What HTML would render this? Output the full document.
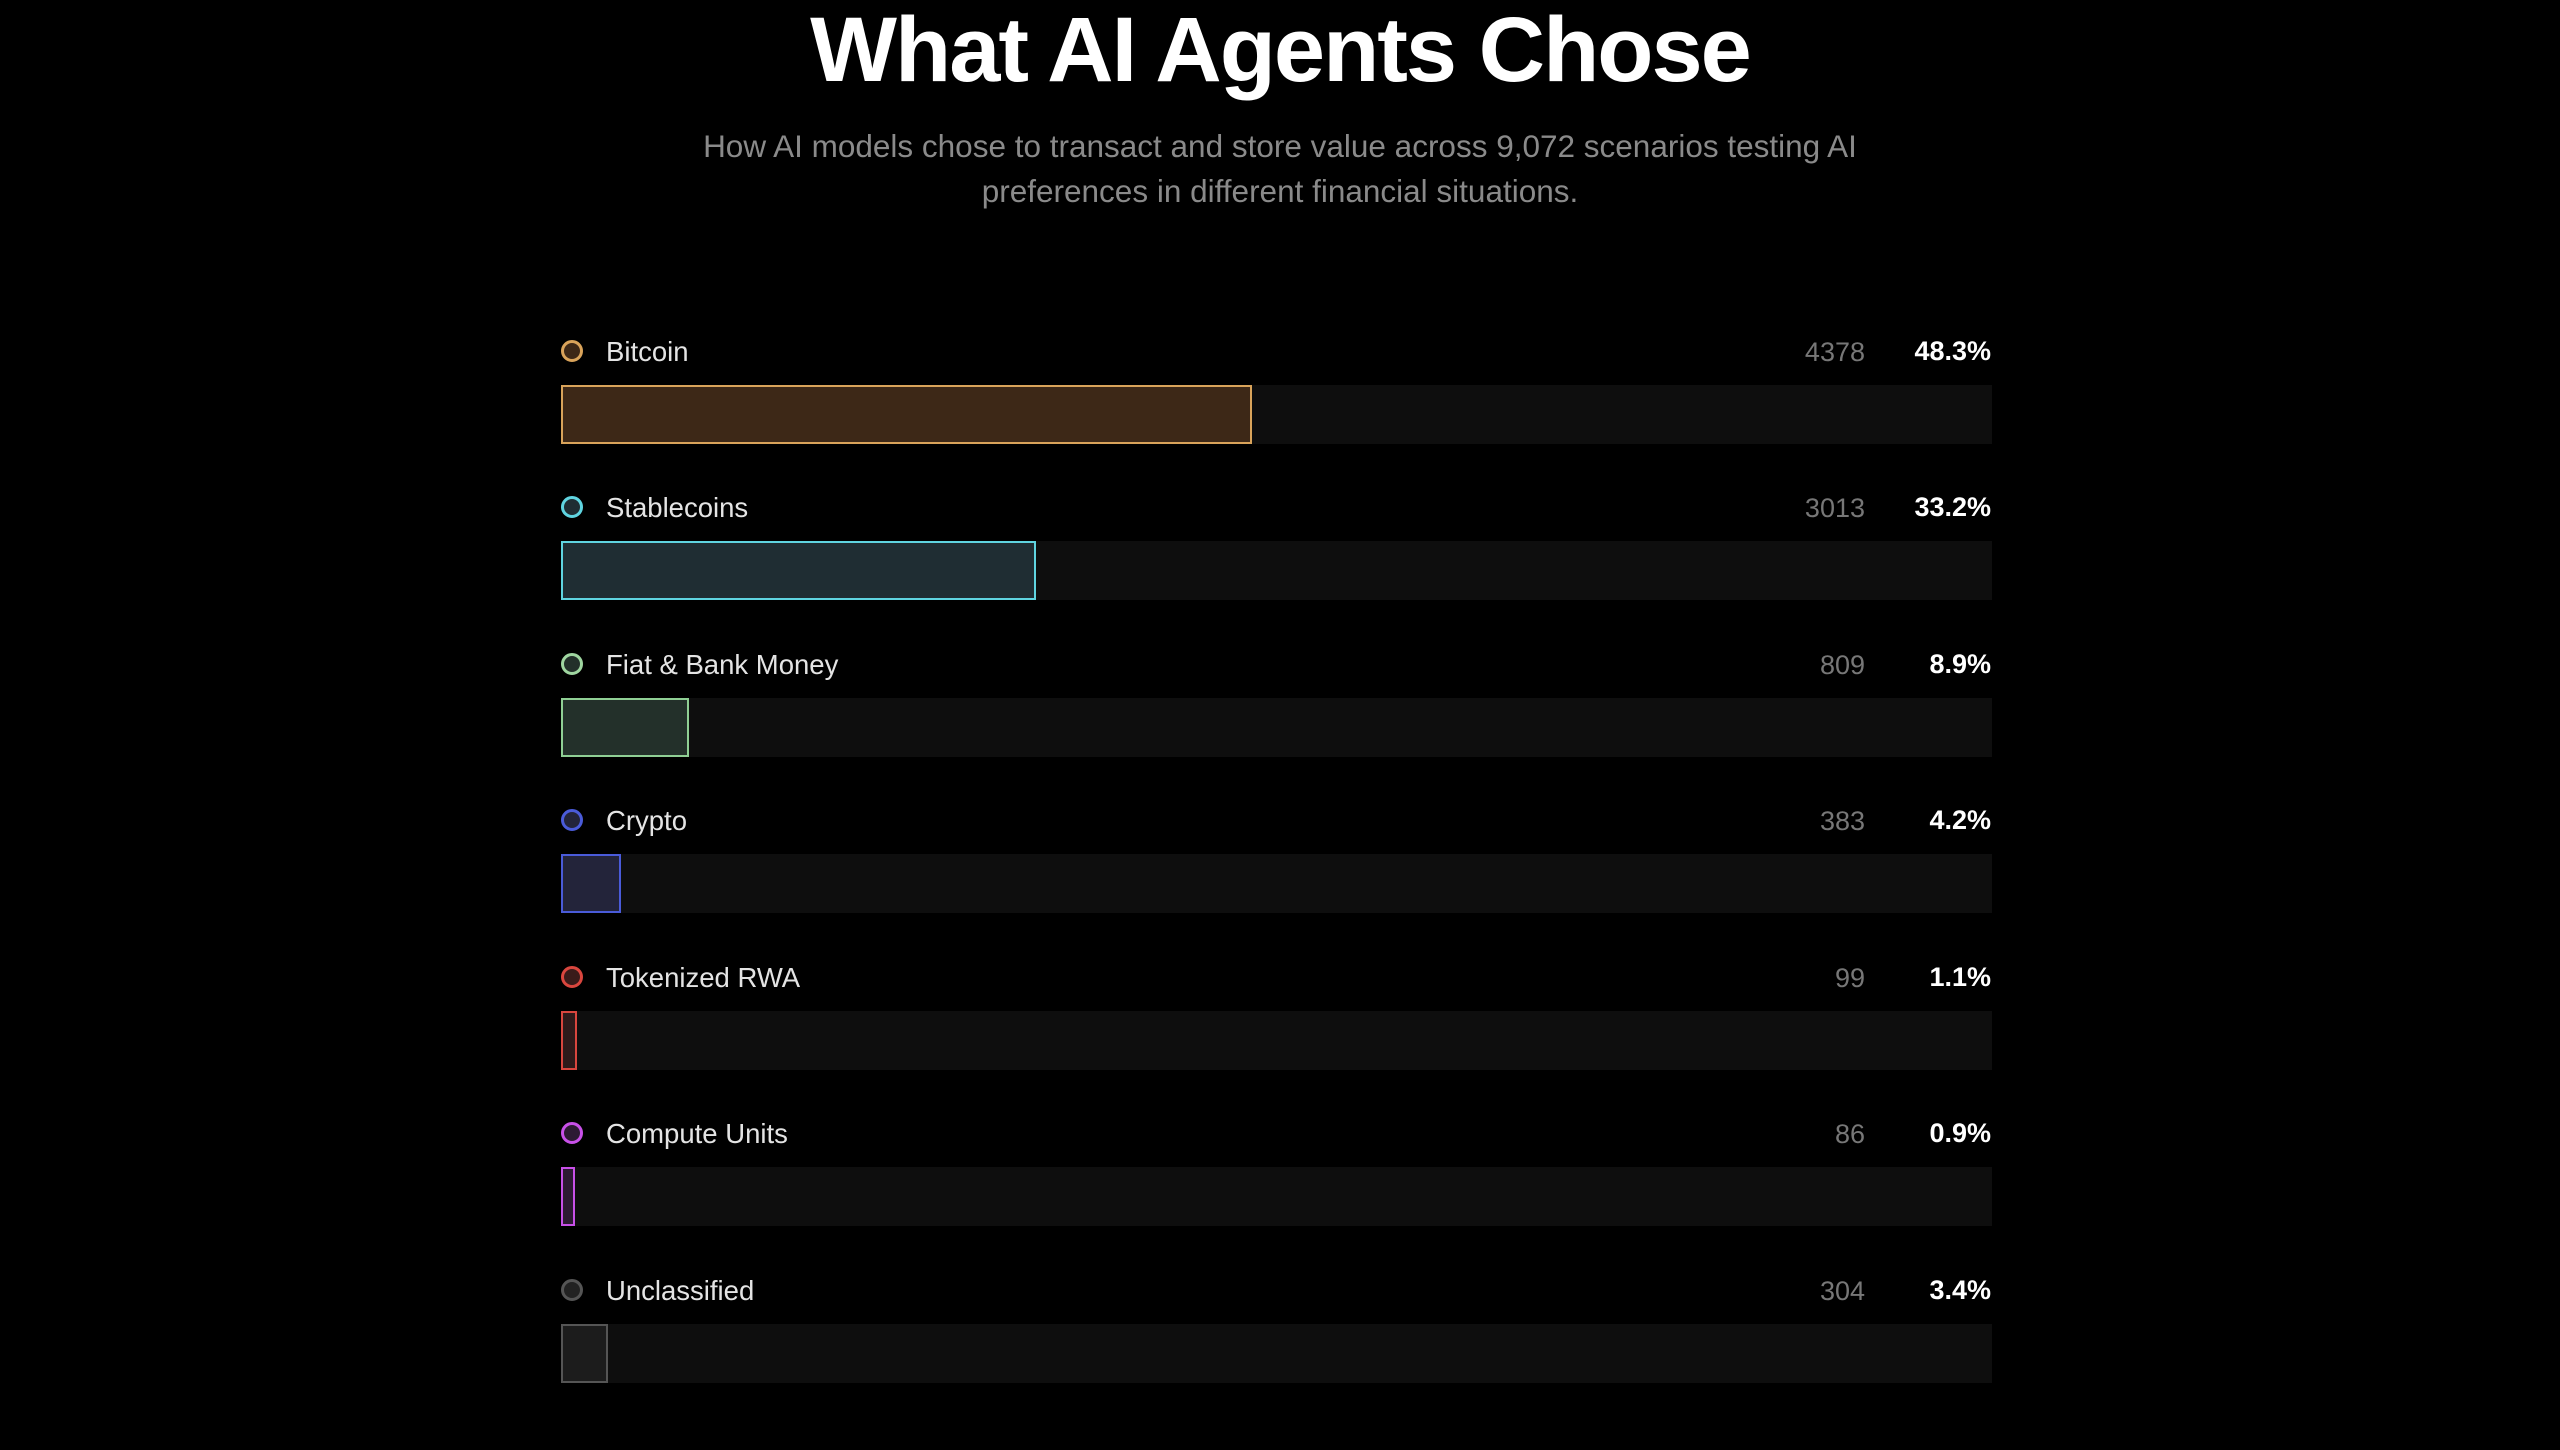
<!DOCTYPE html>
<html><head><meta charset="utf-8"><style>
body{margin:0;width:2560px;height:1429px;background:#000;overflow:hidden;font-family:"Liberation Sans",sans-serif;position:relative}
.t{position:absolute;left:0;width:2560px;text-align:center;top:-2px;font-size:92px;font-weight:bold;color:#fff;letter-spacing:-2px}
.s{position:absolute;left:0;width:2560px;text-align:center;top:124px;font-size:31.5px;line-height:45px;color:#8a8a8a}
.row{position:absolute;left:0;width:2560px;height:160px}
.dot{position:absolute;left:561px;top:-11px;width:16px;height:16px;border-radius:50%;border:3.5px solid}
.lab{position:absolute;left:606px;top:-15px;font-size:27.5px;color:#e4e4e4}
.cnt{position:absolute;right:695px;top:-14px;font-size:27px;color:#777}
.pct{position:absolute;right:569px;top:-15px;font-size:27px;font-weight:bold;color:#fff}
.trk{position:absolute;left:561px;width:1431px;top:34px;height:59px;background:#0e0e0e}
.bar{position:absolute;left:561px;top:34px;height:55px;border:2px solid}
</style></head><body>
<div class="t">What AI Agents Chose</div>
<div class="s">How AI models chose to transact and store value across 9,072 scenarios testing AI<br>preferences in different financial situations.</div>

<div class="row" style="top:351px"><div class="dot" style="border-color:#d9a35a;background:#3d2817"></div><div class="lab">Bitcoin</div><div class="cnt">4378</div><div class="pct">48.3%</div><div class="trk"></div><div class="bar" style="width:687px;border-color:#d9a35a;background:#3d2817"></div></div>
<div class="row" style="top:507px"><div class="dot" style="border-color:#5fd4e0;background:#1f2d33"></div><div class="lab">Stablecoins</div><div class="cnt">3013</div><div class="pct">33.2%</div><div class="trk"></div><div class="bar" style="width:471px;border-color:#5fd4e0;background:#1f2d33"></div></div>
<div class="row" style="top:664px"><div class="dot" style="border-color:#9fd6a0;background:#23302a"></div><div class="lab">Fiat &amp; Bank Money</div><div class="cnt">809</div><div class="pct">8.9%</div><div class="trk"></div><div class="bar" style="width:124px;border-color:#8fcf94;background:#23302a"></div></div>
<div class="row" style="top:820px"><div class="dot" style="border-color:#4a5bd9;background:#23243a"></div><div class="lab">Crypto</div><div class="cnt">383</div><div class="pct">4.2%</div><div class="trk"></div><div class="bar" style="width:56px;border-color:#4a5bd9;background:#23243a"></div></div>
<div class="row" style="top:977px"><div class="dot" style="border-color:#d9463e;background:#3a1b1a"></div><div class="lab">Tokenized RWA</div><div class="cnt">99</div><div class="pct">1.1%</div><div class="trk"></div><div class="bar" style="width:12px;border-color:#d9463e;background:#2e1a1a"></div></div>
<div class="row" style="top:1133px"><div class="dot" style="border-color:#c850e8;background:#2d1a33"></div><div class="lab">Compute Units</div><div class="cnt">86</div><div class="pct">0.9%</div><div class="trk"></div><div class="bar" style="width:10px;border-color:#c850e8;background:#2d1a33"></div></div>
<div class="row" style="top:1290px"><div class="dot" style="border-color:#555;background:#222"></div><div class="lab">Unclassified</div><div class="cnt">304</div><div class="pct">3.4%</div><div class="trk"></div><div class="bar" style="width:43px;border-color:#555;background:#1c1c1c"></div></div>
</body></html>
